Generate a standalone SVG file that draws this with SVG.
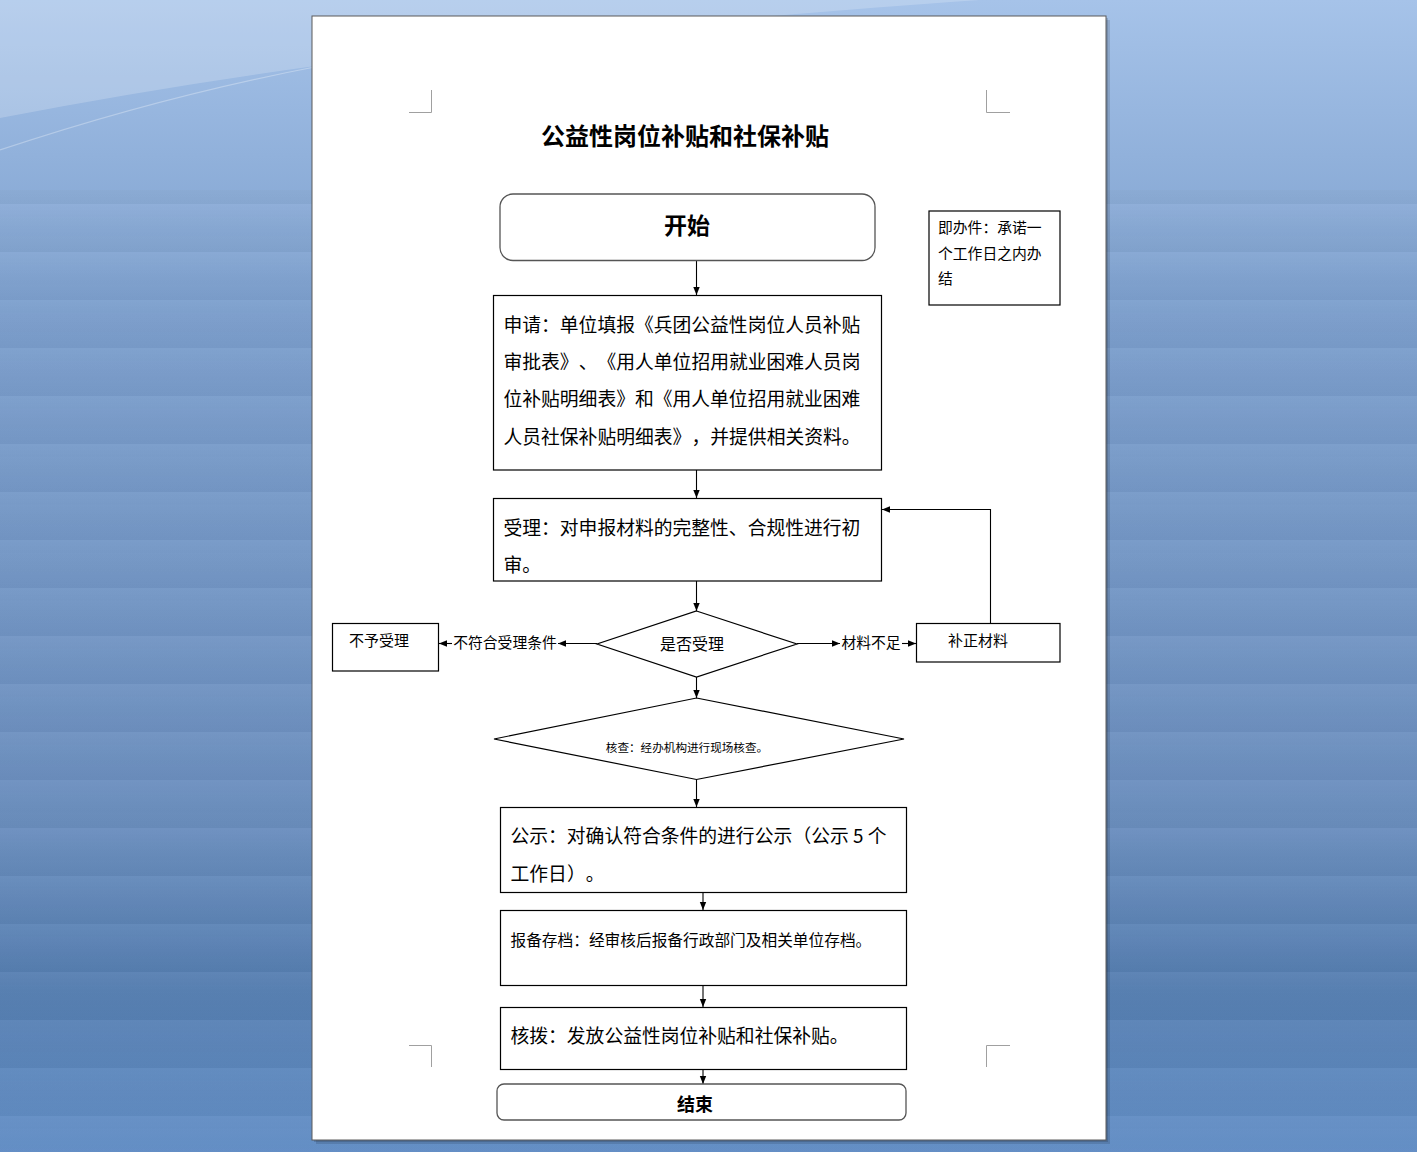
<svg xmlns="http://www.w3.org/2000/svg" width="1417" height="1152" viewBox="0 0 1417 1152">
<defs>
<linearGradient id="bg" x1="0" y1="0" x2="0" y2="1">
<stop offset="0" stop-color="#a6c3e9"/>
<stop offset="0.27" stop-color="#7c9fcd"/>
<stop offset="0.5" stop-color="#7497c6"/>
<stop offset="0.72" stop-color="#6a8ebe"/>
<stop offset="0.86" stop-color="#557eb1"/>
<stop offset="1" stop-color="#6591c9"/>
</linearGradient>
<linearGradient id="band" x1="0" y1="0" x2="0" y2="1">
<stop offset="0" stop-color="#ffffff" stop-opacity="0.04"/>
<stop offset="1" stop-color="#000000" stop-opacity="0.03"/>
</linearGradient>
<pattern id="stripes" x="0" y="12" width="1417" height="48" patternUnits="userSpaceOnUse">
<rect x="0" y="0" width="1417" height="48" fill="url(#band)"/>
</pattern>
<marker id="ah" viewBox="0 0 10 10" refX="10" refY="5" markerWidth="8" markerHeight="8" markerUnits="userSpaceOnUse" orient="auto">
<path d="M0,1 L10,5 L0,9 Z" fill="#000"/>
</marker>
<style>
.t{font-family:"Noto Sans CJK SC","Liberation Sans",sans-serif;fill:#000;dominant-baseline:central;text-spacing-trim:space-all}
.b{font-weight:bold}
.box{fill:#fff;stroke:#000;stroke-width:1.2}
.rbox{fill:#fff;stroke:#555;stroke-width:1.3}
.arr{fill:none;stroke:#000;stroke-width:1.1;marker-end:url(#ah)}
.crn{fill:none;stroke:#a0a0a0;stroke-width:1}
</style>
</defs>

<!-- background -->
<rect x="0" y="0" width="1417" height="1152" fill="url(#bg)"/>
<rect x="0" y="190" width="1417" height="962" fill="url(#stripes)"/>
<path d="M0,0 H980 C700,20 350,50 0,118 Z" fill="#ffffff" opacity="0.2"/>
<path d="M0,150 C120,110 220,85 320,66" fill="none" stroke="#ffffff" stroke-opacity="0.3" stroke-width="1.2"/>

<!-- page -->
<rect x="316" y="20" width="794" height="1124" fill="#000" opacity="0.12"/>
<rect x="314" y="18" width="794" height="1124" fill="#000" opacity="0.15"/>
<rect x="312" y="16" width="794" height="1124" fill="#fff" stroke="#5a5a5a" stroke-width="1"/>

<!-- corner marks -->
<path class="crn" d="M431.5,90 V112.5 H409"/>
<path class="crn" d="M986.5,90 V112.5 H1010"/>
<path class="crn" d="M431.5,1067 V1045.5 H409"/>
<path class="crn" d="M986.5,1067 V1045.5 H1010"/>

<!-- title -->
<text class="t b" x="685" y="134" font-size="24" text-anchor="middle">公益性岗位补贴和社保补贴</text>

<!-- connectors -->
<g id="connectors">
<line class="arr" x1="696.5" y1="261" x2="696.5" y2="295"/>
<line class="arr" x1="696.5" y1="470" x2="696.5" y2="498"/>
<polyline class="arr" points="990.5,623 990.5,509.5 882,509.5"/>
<line class="arr" x1="696.5" y1="581" x2="696.5" y2="611"/>
<line class="arr" x1="597" y1="643.5" x2="558" y2="643.5"/>
<line class="arr" x1="452" y1="643.5" x2="439" y2="643.5"/>
<text class="t" x="505" y="641.5" font-size="14.8" text-anchor="middle">不符合受理条件</text>
<line class="arr" x1="797" y1="643.5" x2="840" y2="643.5"/>
<line class="arr" x1="902" y1="643.5" x2="916" y2="643.5"/>
<text class="t" x="871" y="641.5" font-size="14.8" text-anchor="middle">材料不足</text>
<line class="arr" x1="696.5" y1="677" x2="696.5" y2="698"/>
<line class="arr" x1="696.5" y1="779" x2="696.5" y2="807"/>
<line class="arr" x1="703" y1="892" x2="703" y2="910"/>
<line class="arr" x1="703" y1="985" x2="703" y2="1007"/>
<line class="arr" x1="703" y1="1069" x2="703" y2="1084"/>
</g>

<!-- nodes -->
<g id="start">
<rect class="rbox" x="500" y="194" width="375" height="66.5" rx="13"/>
<text class="t b" x="687" y="223.5" font-size="23" text-anchor="middle">开始</text>
</g>

<g id="note">
<rect class="box" x="929" y="211" width="131" height="94"/>
<text class="t" x="938" y="226.5" font-size="14.8">即办件：承诺一</text>
<text class="t" x="938" y="252.5" font-size="14.8">个工作日之内办</text>
<text class="t" x="938" y="277.5" font-size="14.8">结</text>
</g>

<g id="apply">
<rect class="box" x="493.5" y="295.5" width="388" height="174.5"/>
<text class="t" x="503.5" y="323" font-size="18.8">申请：单位填报《兵团公益性岗位人员补贴</text>
<text class="t" y="360" font-size="18.8"><tspan x="503.5">审批表》</tspan><tspan x="578.7">、</tspan><tspan x="597.5">《用人单位招用就业困难人员岗</tspan></text>
<text class="t" x="503.5" y="397" font-size="18.8">位补贴明细表》和《用人单位招用就业困难</text>
<text class="t" y="434.5" font-size="18.8"><tspan x="503.5">人员社保补贴明细表》</tspan><tspan x="691.5">，</tspan><tspan x="710.3">并提供相关资料。</tspan></text>
</g>

<g id="accept">
<rect class="box" x="493.5" y="498.5" width="388" height="82.5"/>
<text class="t" x="503.5" y="526" font-size="18.8">受理：对申报材料的完整性、合规性进行初</text>
<text class="t" x="503.5" y="563" font-size="18.8">审。</text>
</g>

<g id="decide">
<polygon points="696.5,611 797,644 696.5,677 597,644" fill="#fff" stroke="#000" stroke-width="1.2"/>
<text class="t" x="692" y="642.5" font-size="16" text-anchor="middle">是否受理</text>
</g>

<g id="reject">
<rect class="box" x="332.5" y="623.5" width="106" height="47.5"/>
<text class="t" x="379" y="639.5" font-size="15" text-anchor="middle">不予受理</text>
</g>

<g id="supplement">
<rect class="box" x="916.5" y="623.5" width="143.5" height="38.5"/>
<text class="t" x="978" y="639.5" font-size="15" text-anchor="middle">补正材料</text>
</g>

<g id="check">
<polygon points="696.5,698 904,739 696.5,779.5 494,739" fill="#fff" stroke="#000" stroke-width="1.2"/>
<text class="t" x="687" y="746.5" font-size="11.6" text-anchor="middle">核查：经办机构进行现场核查。</text>
</g>

<g id="publicize">
<rect class="box" x="500.5" y="807.5" width="406" height="85"/>
<text class="t" y="834" font-size="18.8"><tspan x="510.5">公示：对确认符合条件的进行公示</tspan><tspan x="792.5">（公示 5 个</tspan></text>
<text class="t" y="871.5" font-size="18.8"><tspan x="510.5">工作日</tspan><tspan x="566.9">）</tspan><tspan x="585.7">。</tspan></text>
</g>

<g id="archive">
<rect class="box" x="500.5" y="910.5" width="406" height="75"/>
<text class="t" x="510.5" y="939.5" font-size="15.7">报备存档：经审核后报备行政部门及相关单位存档。</text>
</g>

<g id="allocate">
<rect class="box" x="500.5" y="1007.5" width="406" height="62"/>
<text class="t" x="510.5" y="1034" font-size="18.8">核拨：发放公益性岗位补贴和社保补贴。</text>
</g>

<g id="end">
<rect class="rbox" x="497" y="1084" width="409" height="36" rx="7"/>
<text class="t b" x="695" y="1103" font-size="18" text-anchor="middle">结束</text>
</g>
</svg>
